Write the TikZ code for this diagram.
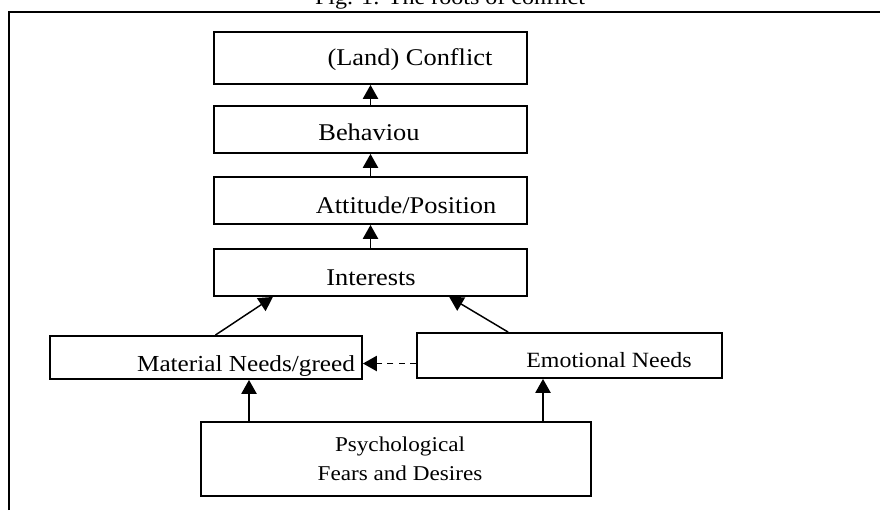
\documentclass[tikz,border=0pt]{standalone}
\usepackage{fontspec}
\setmainfont{Liberation Serif}[FakeStretch=1.1]
\usetikzlibrary{arrows.meta,calc,fit}

\begin{document}
\begin{tikzpicture}[x=.75pt,y=-.75pt,
		box/.style={draw,line width=1.4pt,inner sep=0pt},
		lbl/.style={anchor=base,inner sep=0pt,font=\fontsize{18}{20}\selectfont},
		up/.style={line width=1.1pt,-{Triangle[length=10.5pt,width=11.5pt]}}]
		\useasboundingbox (0,0) rectangle (880,510);
		\draw[line width=1.2pt] (9,510) |- (880,12);
		\node[lbl,font=\fontsize{16.4}{18}\selectfont] (cap) at (450,5) {Fig. 1: The roots of conflict};
		% the boxes, corners in pixels
		\node[box,fit={(214,32) (527,84)}] (conflict) {};
		\node[box,fit={(214,106) (527,153)}] (behav) {};
		\node[box,fit={(214,177) (527,224)}] (att) {};
		\node[box,fit={(214,249) (527,296)}] (int) {};
		\node[box,fit={(50,336) (362,379)}] (mat) {};
		\node[box,fit={(417,333) (722,378)}] (emo) {};
		\node[box,fit={(201,422) (591,496)}] (psych) {};
		% texts
		\node[lbl] (conflictlbl) at (410,65) {(Land) Conflict};
		\node[lbl] (behavlbl) at (369,140) {Behaviou};
		\node[lbl] (attlbl) at (406,213) {Attitude/Position};
		\node[lbl] (intlbl) at (371,285) {Interests};
		\node[lbl,font=\fontsize{17.2}{19}\selectfont] (matlbl) at (246,371) {Material Needs/greed};
		\node[lbl,font=\fontsize{16.3}{18}\selectfont] (emolbl) at (609,367) {Emotional Needs};
		\node[lbl,font=\fontsize{15.8}{18}\selectfont,align=center,anchor=center] (psychlbl) at (400,459)
			{Psychological\\[4pt]Fears and Desires};
		% arrows
		\foreach \a/\b in {behav/conflict,att/behav,int/att} \draw[up] (\a) -- (\b);
		\draw[up] ($(mat.north west)!.53!(mat.north east)$) -- ($(int.south west)!.19!(int.south east)$);
		\draw[up] ($(emo.north west)!.3!(emo.north east)$) -- ($(int.south west)!.75!(int.south east)$);
		\draw[up,dash pattern=on 4.5pt off 4pt] ([yshift=-6pt]emo.west) -- ([yshift=-6pt]emo.west -| mat.east);
		\draw[up] (psych.north -| 249,0) -- (mat.south -| 249,0);
		\draw[up] (psych.north -| 543,0) -- (emo.south -| 543,0);
	\end{tikzpicture}
\end{document}
